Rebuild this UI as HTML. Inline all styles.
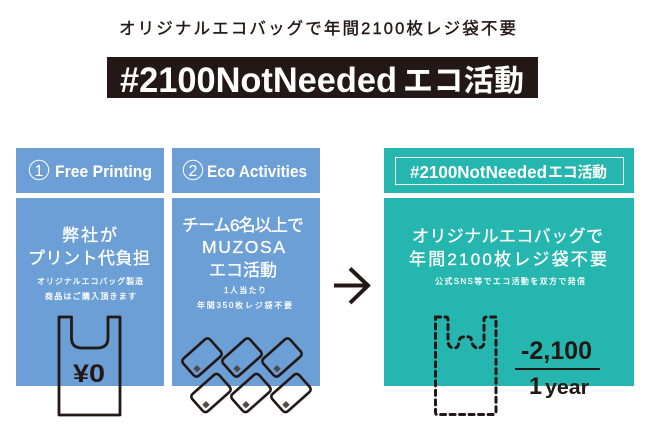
<!DOCTYPE html>
<html>
<head>
<meta charset="utf-8">
<style>
html,body{margin:0;padding:0;background:#fff}
svg{display:block}
text{font-family:"Liberation Sans","Noto Sans CJK JP",sans-serif;}
.w{fill:#fff}
.k{fill:#231815}
.b{font-weight:bold}
.mw{stroke:#fff;stroke-width:.35px}
.sw{stroke:#fff;stroke-width:.25px}
.mk{stroke:#231815;stroke-width:.4px}
</style>
</head>
<body>
<svg width="650" height="434" viewBox="0 0 650 434" xmlns="http://www.w3.org/2000/svg">
<defs>
<g id="card">
<rect x="-18" y="-11.500" width="36" height="23" rx="3.500" fill="none" stroke="#231815" stroke-width="2.600"/>
</g>
</defs>
<rect width="650" height="434" fill="#fff"/>

<text class="k mk" x="119" y="34" font-size="16.500" textLength="397">オリジナルエコバッグで年間2100枚レジ袋不要</text>

<rect x="107" y="57" width="431" height="41" fill="#231815"/>
<text class="w b" x="120" y="92" font-size="35" textLength="277" lengthAdjust="spacingAndGlyphs">#2100NotNeeded</text>
<text class="w b" x="403" y="91" font-size="30" textLength="121">エコ活動</text>

<rect x="16" y="148" width="148" height="45" fill="#6c9fd6"/>
<rect x="172" y="148" width="148" height="45" fill="#6c9fd6"/>
<rect x="16" y="198" width="148" height="188" fill="#6c9fd6"/>
<rect x="172" y="198" width="148" height="188" fill="#6c9fd6"/>
<rect x="384" y="148" width="250" height="45" fill="#25b6b0"/>
<rect x="384" y="198" width="250" height="188" fill="#25b6b0"/>

<circle cx="39" cy="170" r="9.700" fill="none" stroke="#fff" stroke-width="1"/>
<text class="w" x="39" y="176" font-size="16" text-anchor="middle">1</text>
<text class="w b" x="55" y="177" font-size="17" textLength="97" lengthAdjust="spacingAndGlyphs">Free Printing</text>
<circle cx="193" cy="170" r="9.700" fill="none" stroke="#fff" stroke-width="1"/>
<text class="w" x="193" y="176" font-size="16" text-anchor="middle">2</text>
<text class="w b" x="207" y="177" font-size="17" textLength="100" lengthAdjust="spacingAndGlyphs">Eco Activities</text>

<text class="w mw" x="62" y="241" font-size="17" textLength="55">弊社が</text>
<text class="w mw" x="28" y="264" font-size="17" textLength="122">プリント代負担</text>
<text class="w sw" x="37" y="284" font-size="8" textLength="106">オリジナルエコバッグ製造</text>
<text class="w sw" x="45" y="299" font-size="8" textLength="91">商品はご購入頂きます</text>

<text class="w mw" x="182" y="231" font-size="17" textLength="122">チーム6名以上で</text>
<text class="w mw" x="202" y="253" font-size="17.500" textLength="83">MUZOSA</text>
<text class="w mw" x="209" y="276" font-size="17" textLength="68">エコ活動</text>
<text class="w sw" x="224" y="293" font-size="8" textLength="42">1人当たり</text>
<text class="w sw" x="197" y="308" font-size="8" textLength="95">年間350枚レジ袋不要</text>

<path d="M59 317H71.500V338Q71.500 348 82 348H97Q108 348 108 338V317H120V415H59Z" fill="none" stroke="#231815" stroke-width="2.800" stroke-linejoin="round"/>
<text class="k b" x="73" y="382" font-size="25" textLength="32" lengthAdjust="spacingAndGlyphs">¥0</text>

<use href="#card" transform="translate(202 357.500) rotate(-41.600)"/>
<use href="#card" transform="translate(242 357.500) rotate(-41.600)"/>
<use href="#card" transform="translate(282 357.500) rotate(-41.600)"/>
<use href="#card" transform="translate(211 393) rotate(-41.600)"/>
<use href="#card" transform="translate(251 393) rotate(-41.600)"/>
<use href="#card" transform="translate(291 393) rotate(-41.600)"/>
<g fill="#4d4a48">
<path d="M197 365l3.700 3.700-3.700 3.700-3.700-3.700z"/>
<path d="M237 365l3.700 3.700-3.700 3.700-3.700-3.700z"/>
<path d="M277 365l3.700 3.700-3.700 3.700-3.700-3.700z"/>
<path d="M206 401l3.700 3.700-3.700 3.700-3.700-3.700z"/>
<path d="M246 401l3.700 3.700-3.700 3.700-3.700-3.700z"/>
<path d="M286 401l3.700 3.700-3.700 3.700-3.700-3.700z"/>
</g>

<path d="M334 285.500H368M350 268.500L368 285.500L350 303" fill="none" stroke="#231815" stroke-width="4"/>

<rect x="395.500" y="157.500" width="228" height="27" fill="none" stroke="#fff" stroke-width="1"/>
<text class="w b" x="410" y="178" font-size="17.500" textLength="137" lengthAdjust="spacingAndGlyphs">#2100NotNeeded</text>
<text class="w b" x="548" y="177" font-size="15" textLength="59">エコ活動</text>

<text class="w mw" x="412" y="242" font-size="17" textLength="191">オリジナルエコバッグで</text>
<text class="w mw" x="409" y="265" font-size="17" textLength="198">年間2100枚レジ袋不要</text>
<text class="w sw" x="435" y="284" font-size="8" textLength="150">公式SNS等でエコ活動を双方で発信</text>

<path d="M435.500 317H446Q448 317 448 320V342Q449 348 454 348Q458 348 458.500 344Q459 337 463 337Q469 336 471 338Q472 347 477 348Q484 348 484 342V319Q484 317 487 317H496V412Q496 414.500 493 414.500H437Q435.500 414.500 435.500 412Z" fill="none" stroke="#231815" stroke-width="3" stroke-dasharray="5 4.500" stroke-linecap="round"/>

<text class="k b" x="521" y="359" font-size="25" textLength="71" lengthAdjust="spacingAndGlyphs">-2,100</text>
<rect x="515" y="368" width="85" height="2" fill="#231815"/>
<text class="k b" x="529" y="394" font-size="24" textLength="13" lengthAdjust="spacingAndGlyphs">1</text>
<text class="k b" x="545" y="394" font-size="20" textLength="44" lengthAdjust="spacingAndGlyphs">year</text>
</svg>
</body>
</html>
